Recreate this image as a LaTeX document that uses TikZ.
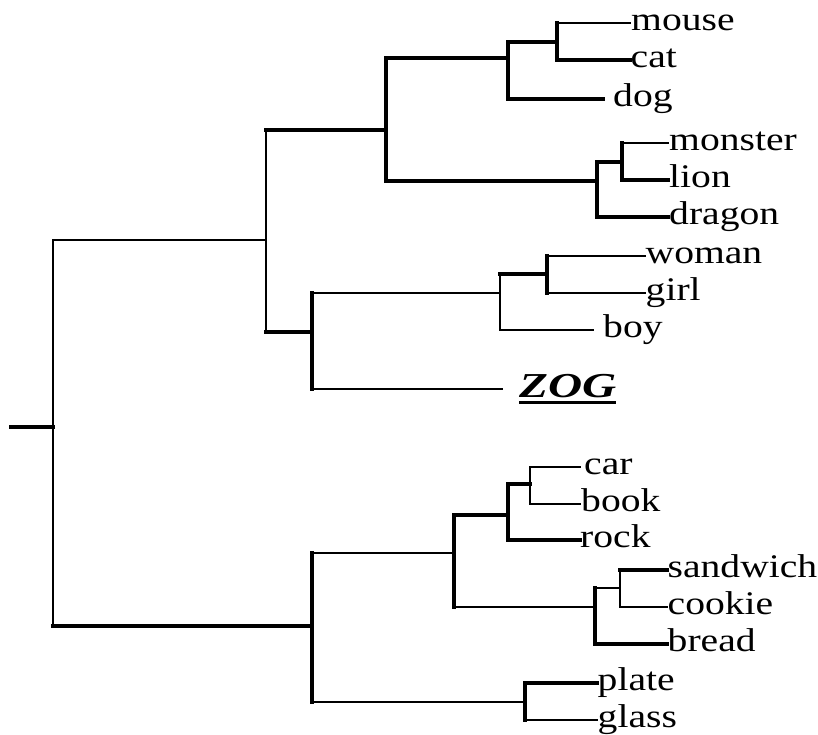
\documentclass[tikz,border=0pt]{standalone}
\usepackage{fontspec}
\setmainfont{Liberation Serif}
\newfontfamily\leaffont[FakeStretch=1.2]{Liberation Serif}
\newfontfamily\zogfont[FakeStretch=1.35]{Liberation Serif}

\begin{document}
\begin{tikzpicture}[x=1pt,y=-1pt,
  thinln/.style={line width=2pt, line cap=rect},
  thickln/.style={line width=4pt, line cap=rect},
  leaf/.style={anchor=west, inner ysep=0pt, text height=15pt, text depth=0pt,
    font=\leaffont\fontsize{33}{33}\selectfont},
]
\useasboundingbox (0,0) rectangle (818,734);

% junctions of the tree
\coordinate (r0) at (11,427);
\coordinate (R) at (53,427);
\coordinate (A) at (266,240);
\coordinate (B) at (386,130);
\coordinate (C) at (508,58);
\coordinate (D) at (557,42);
\coordinate (E) at (597,181);
\coordinate (F) at (622,162);
\coordinate (G) at (312,332);
\coordinate (H) at (500,293);
\coordinate (I) at (547,274);
\coordinate (J) at (312,626);
\coordinate (K) at (454,553);
\coordinate (L) at (508,515);
\coordinate (M) at (530,484);
\coordinate (N) at (595,607);
\coordinate (O) at (620,588);
\coordinate (P) at (525,702);

% leaves
\node[leaf, inner xsep=1pt]   (mouse)    at (630,23)  {mouse};
\node[leaf, inner xsep=0.5pt] (cat)      at (630,60)  {cat};
\node[leaf, inner xsep=10pt]  (dog)      at (603,99)  {dog};
\node[leaf, inner xsep=1pt]   (monster)  at (668,143) {monster};
\node[leaf, inner xsep=1pt]   (lion)     at (668,180) {lion};
\node[leaf, inner xsep=1pt]   (dragon)   at (668,217) {dragon};
\node[leaf, inner xsep=0.5pt] (woman)    at (645,256) {woman};
\node[leaf, inner xsep=0.5pt] (girl)     at (645,293) {girl};
\node[leaf, inner xsep=10pt]  (boy)      at (593,330) {boy};
\node[anchor=west, inner ysep=0pt, inner xsep=17pt, text height=17pt, text depth=0pt,
      font=\zogfont\fontsize{35}{35}\selectfont\bfseries\itshape]
                              (zog)      at (502,389) {ZOG};
\draw[line width=3pt] ([xshift=17pt,yshift=-4.5pt]zog.south west)
   -- ([xshift=-18pt,yshift=-4.5pt]zog.south east);
\node[leaf, inner xsep=4pt]   (car)      at (580,467) {car};
\node[leaf, inner xsep=1pt]   (book)     at (580,504) {book};
\node[leaf, inner xsep=0pt]   (rock)     at (580,540) {rock};
\node[leaf, inner xsep=0.5pt] (sandwich) at (667,570) {sandwich};
\node[leaf, inner xsep=0.5pt] (cookie)   at (667,607) {cookie};
\node[leaf, inner xsep=0.5pt] (bread)    at (667,644) {bread};
\node[leaf, inner xsep=0.5pt] (plate)    at (597,683) {plate};
\node[leaf, inner xsep=0.5pt] (glass)    at (597,720) {glass};

% root
\draw[thickln] (r0) -- (R);
\draw[thinln] (R |- A) -- (R |- J);
\draw[thinln] (R |- A) -- (A);
\draw[thickln] (R |- J) -- (J);

% upper half
\draw[thinln] (A |- B) -- (A |- G);
\draw[thickln] (A |- B) -- (B);
\draw[thickln] (A |- G) -- (G);
\draw[thickln] (B |- C) -- (B |- E);
\draw[thickln] (B |- C) -- (C);
\draw[thickln] (B |- E) -- (E);
\draw[thickln] (C |- D) -- (C |- dog.west);
\draw[thickln] (C |- D) -- (D);
\draw[thickln] (C |- dog.west) -- (dog.west);
\draw[thickln] (D |- mouse.west) -- (D |- cat.west);
\draw[thinln] (D |- mouse.west) -- (mouse.west);
\draw[thickln] (D |- cat.west) -- (cat.west);
\draw[thickln] (E |- F) -- (E |- dragon.west);
\draw[thickln] (E |- F) -- (F);
\draw[thickln] (E |- dragon.west) -- (dragon.west);
\draw[thickln] (F |- monster.west) -- (F |- lion.west);
\draw[thinln] (F |- monster.west) -- (monster.west);
\draw[thickln] (F |- lion.west) -- (lion.west);
\draw[thickln] (G |- H) -- (G |- zog.west);
\draw[thinln] (G |- H) -- (H);
\draw[thinln] (G |- zog.west) -- (zog.west);
\draw[thinln] (H |- I) -- (H |- boy.west);
\draw[thickln] (H |- I) -- (I);
\draw[thinln] (H |- boy.west) -- (boy.west);
\draw[thickln] (I |- woman.west) -- (I |- girl.west);
\draw[thinln] (I |- woman.west) -- (woman.west);
\draw[thinln] (I |- girl.west) -- (girl.west);

% lower half
\draw[thickln] (J |- K) -- (J |- P);
\draw[thinln] (J |- K) -- (K);
\draw[thinln] (J |- P) -- (P);
\draw[thickln] (K |- L) -- (K |- N);
\draw[thickln] (K |- L) -- (L);
\draw[thinln] (K |- N) -- (N);
\draw[thickln] (L |- M) -- (L |- rock.west);
\draw[thickln] (L |- M) -- (M);
\draw[thickln] (L |- rock.west) -- (rock.west);
\draw[thinln] (M |- car.west) -- (M |- book.west);
\draw[thinln] (M |- car.west) -- (car.west);
\draw[thinln] (M |- book.west) -- (book.west);
\draw[thickln] (N |- O) -- (N |- bread.west);
\draw[thinln] (N |- O) -- (O);
\draw[thickln] (N |- bread.west) -- (bread.west);
\draw[thinln] (O |- sandwich.west) -- (O |- cookie.west);
\draw[thickln] (O |- sandwich.west) -- (sandwich.west);
\draw[thinln] (O |- cookie.west) -- (cookie.west);
\draw[thickln] (P |- plate.west) -- (P |- glass.west);
\draw[thickln] (P |- plate.west) -- (plate.west);
\draw[thinln] (P |- glass.west) -- (glass.west);
\end{tikzpicture}
\end{document}
